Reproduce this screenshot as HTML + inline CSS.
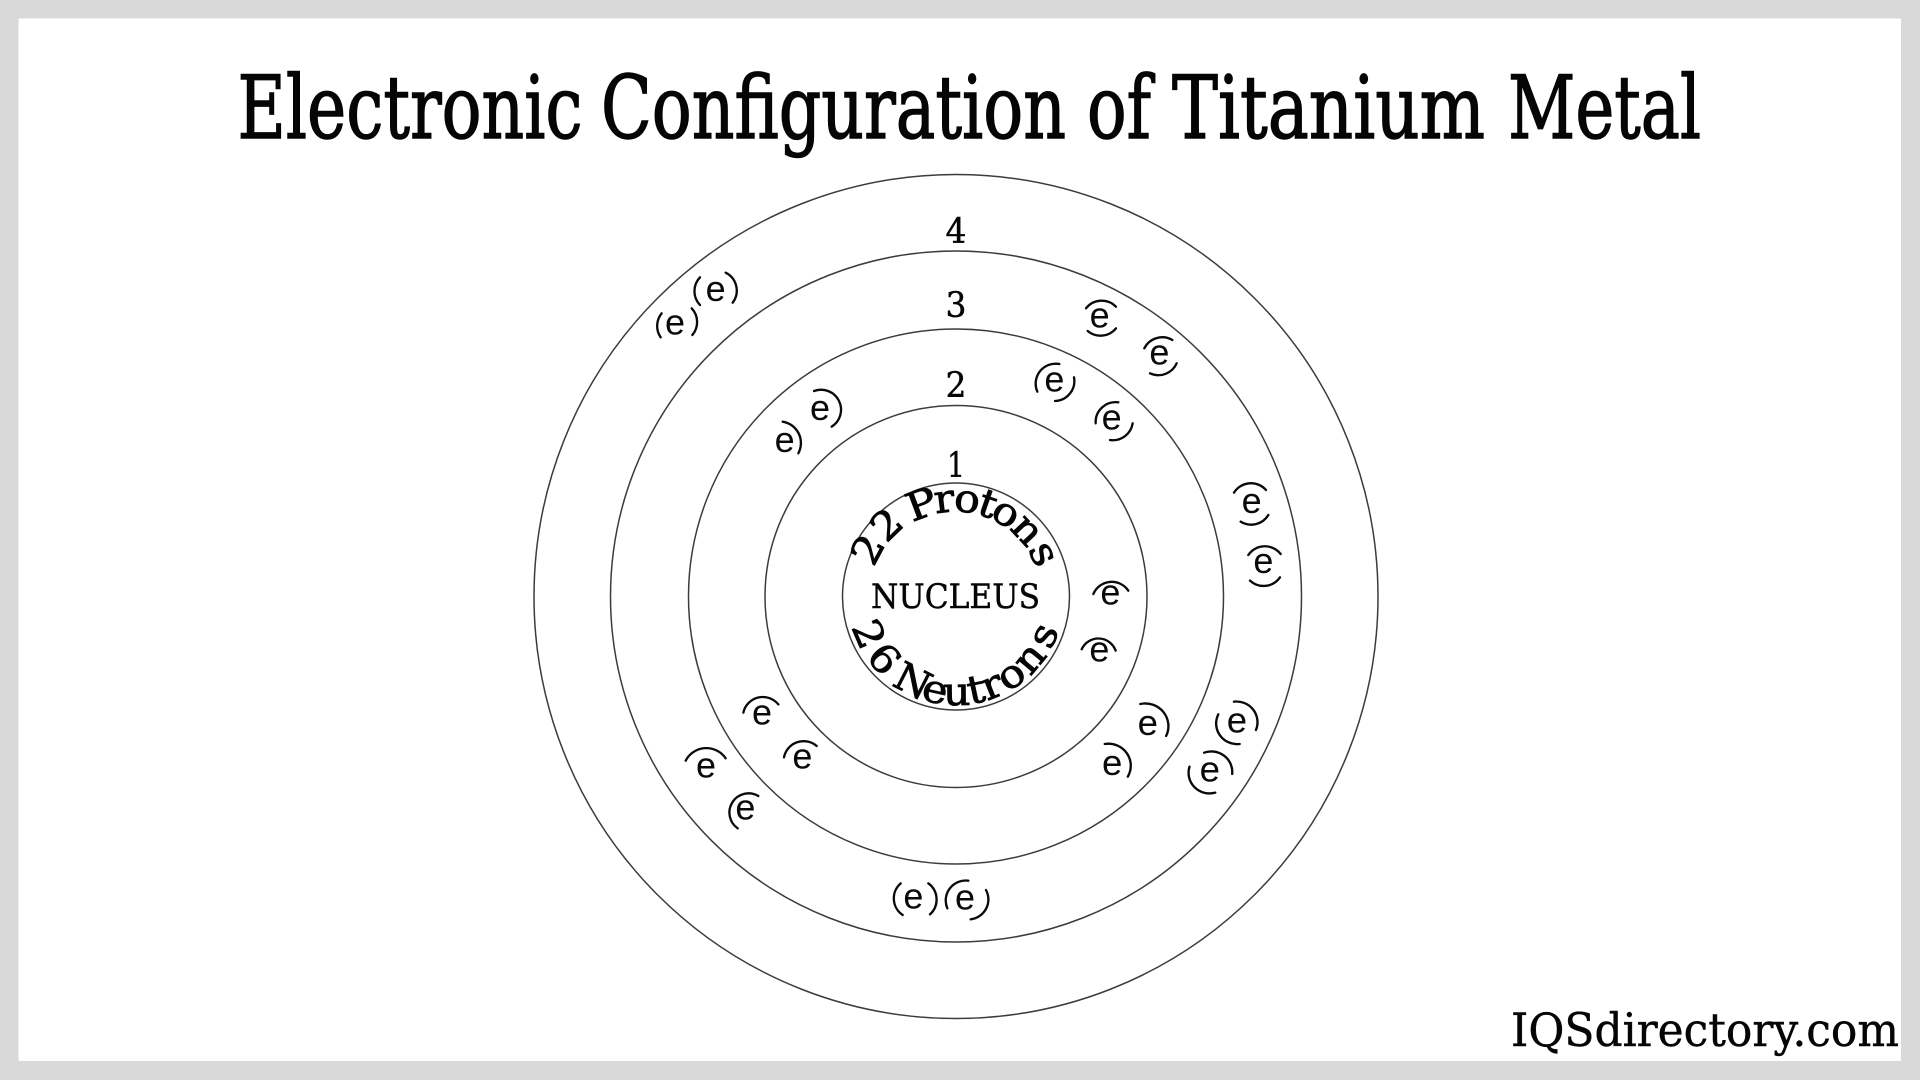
<!DOCTYPE html>
<html>
<head>
<meta charset="utf-8">
<style>
html,body{margin:0;padding:0;width:1920px;height:1080px;overflow:hidden;background:#d9d9d9}
svg{display:block}
.s{font-family:"DejaVu Serif","Liberation Serif",serif;fill:#050505;stroke:#050505;stroke-width:.45}
.t{font-size:87px;stroke-width:1.4}
.c{font-size:39px;text-anchor:middle;stroke-width:.8}
.e{font-family:"Liberation Sans",sans-serif;font-size:108px;text-anchor:middle;fill:#0a0a0a}
.r{fill:none;stroke:#3c3c3c;stroke-width:1.5}
.a{fill:none;stroke:#0a0a0a;stroke-width:7;stroke-linecap:round}
</style>
</head>
<body>
<svg width="1920" height="1080" viewBox="0 0 1920 1080" xmlns="http://www.w3.org/2000/svg">
<rect x="0" y="0" width="1920" height="1080" fill="#d9d9d9"/>
<rect x="18.5" y="18.5" width="1882.5" height="1042.5" fill="#fff"/>

<text class="s t" x="237.5" y="138" textLength="345" lengthAdjust="spacingAndGlyphs">Electronic</text>
<text class="s t" x="601" y="138" textLength="465" lengthAdjust="spacingAndGlyphs">Configuration</text>
<text class="s t" x="1087" y="138" textLength="64" lengthAdjust="spacingAndGlyphs">of</text>
<text class="s t" x="1172" y="138" textLength="313" lengthAdjust="spacingAndGlyphs">Titanium</text>
<text class="s t" x="1508" y="138" textLength="193" lengthAdjust="spacingAndGlyphs">Metal</text>
<text class="s" x="1511" y="1046" font-size="46" textLength="388" lengthAdjust="spacingAndGlyphs">IQSdirectory.com</text>

<circle class="r" cx="956" cy="596.5" r="113.5"/>
<circle class="r" cx="956" cy="596.5" r="191"/>
<circle class="r" cx="956" cy="596.5" r="267.5"/>
<circle class="r" cx="956" cy="596.5" r="345.5"/>
<circle class="r" cx="956" cy="596.5" r="422"/>

<text class="s" x="945.5" y="243" font-size="35" textLength="21" lengthAdjust="spacingAndGlyphs">4</text>
<text class="s" x="945.5" y="317" font-size="35" textLength="21" lengthAdjust="spacingAndGlyphs">3</text>
<text class="s" x="945.5" y="397" font-size="35" textLength="21" lengthAdjust="spacingAndGlyphs">2</text>
<text class="s" x="947" y="477" font-size="35" textLength="18" lengthAdjust="spacingAndGlyphs">1</text>

<text class="s" x="871" y="608" font-size="34" textLength="169" lengthAdjust="spacingAndGlyphs">NUCLEUS</text>

<!-- 22 Protons -->
<text class="s c" transform="rotate(-62 956 596.5) translate(956 510) scale(1.1 1)">2</text>
<text class="s c" transform="rotate(-44 956 596.5) translate(956 510) scale(1.1 1)">2</text>
<text class="s c" transform="rotate(-20.5 956 596.5) translate(956 511.5) scale(1.15 1)">P</text>
<text class="s c" transform="rotate(-7 956 596.5) translate(956 511.5) scale(1.1 1)">r</text>
<text class="s c" transform="rotate(6.6 956 596.5) translate(956 511.5) scale(1.1 1)">o</text>
<text class="s c" transform="rotate(19 956 596.5) translate(956 511.5) scale(1.1 1)">t</text>
<text class="s c" transform="rotate(31 956 596.5) translate(956 511.5) scale(1.1 1)">o</text>
<text class="s c" transform="rotate(47 956 596.5) translate(956 511.5) scale(1.1 1)">n</text>
<text class="s c" transform="rotate(64 956 596.5) translate(956 511.5) scale(1.1 1)">s</text>
<!-- 26 Neutrons -->
<text class="s c" transform="rotate(66.7 956 596.5) translate(956 705) scale(1.1 1)">2</text>
<text class="s c" transform="rotate(49 956 596.5) translate(956 705) scale(1.1 1)">6</text>
<text class="s c" transform="rotate(27 956 596.5) translate(956 705) scale(1.05 1)">N</text>
<text class="s c" transform="rotate(12.5 956 596.5) translate(956 705) scale(1.1 1)">e</text>
<text class="s c" transform="rotate(-0.5 956 596.5) translate(956 705) scale(1.1 1)">u</text>
<text class="s c" transform="rotate(-12 956 596.5) translate(956 705) scale(1.1 1)">t</text>
<text class="s c" transform="rotate(-22 956 596.5) translate(956 705) scale(1.1 1)">r</text>
<text class="s c" transform="rotate(-35 956 596.5) translate(956 705) scale(1.1 1)">o</text>
<text class="s c" transform="rotate(-50 956 596.5) translate(956 705) scale(1.1 1)">n</text>
<text class="s c" transform="rotate(-66 956 596.5) translate(956 705) scale(1.1 1)">s</text>

<!-- crop 2 -->
<g transform="translate(620 250) scale(.33333)">
<text class="e" x="165" y="253">e</text>
<path class="a" d="M125 190A60 60 0 0 0 122 262M215 175A60 60 0 0 1 217 255"/>
<text class="e" x="287" y="153">e</text>
<path class="a" d="M240 82A60 60 0 0 0 240 165M317 68A60 60 0 0 1 338 158"/>
<text class="e" x="600" y="510">e</text>
<path class="a" d="M582 423A60 60 0 0 1 635 530"/>
<text class="e" x="494" y="606">e</text>
<path class="a" d="M488 515A65 65 0 0 1 535 610"/>
</g>
<!-- crop 3 -->
<g transform="translate(1000 270) scale(.33333)">
<text class="e" x="299" y="173">e</text>
<path class="a" d="M258 115A60 60 0 0 1 348 110M348 175A60 60 0 0 1 263 183"/>
<text class="e" x="478" y="283">e</text>
<path class="a" d="M433 235A60 60 0 0 1 517 210M530 280A60 60 0 0 1 450 310"/>
<text class="e" x="163" y="364">e</text>
<path class="a" d="M178 282A60 60 0 0 0 112 365M222 322A60 60 0 0 1 165 393"/>
<text class="e" x="335" y="479">e</text>
<path class="a" d="M355 397A60 60 0 0 0 287 460M398 460A60 60 0 0 1 330 510"/>
<text class="e" x="755" y="729">e</text>
<path class="a" d="M702 668A60 60 0 0 1 798 660M805 735A60 60 0 0 1 722 755"/>
<text class="e" x="790" y="909">e</text>
<path class="a" d="M745 855A60 60 0 0 1 842 852M840 922A60 60 0 0 1 750 932"/>
<text class="e" x="331" y="1003">e</text>
<path class="a" d="M280 972A60 60 0 0 1 385 962"/>
</g>
<!-- crop 1 -->
<g transform="translate(820 460) scale(.33333)">
<text class="e" x="838" y="604">e</text>
<path class="a" d="M785 568A55 55 0 0 1 887 572"/>
</g>
<!-- crop 4 -->
<g transform="translate(660 670) scale(.33333)">
<text class="e" x="306" y="163">e</text>
<path class="a" d="M250 128A60 60 0 0 1 355 103"/>
<text class="e" x="427" y="295">e</text>
<path class="a" d="M372 262A60 60 0 0 1 470 228"/>
<text class="e" x="138" y="322">e</text>
<path class="a" d="M77 272A70 70 0 0 1 197 265"/>
<text class="e" x="256" y="449">e</text>
<path class="a" d="M295 378A57.6 57.6 0 0 0 233 475"/>
<text class="e" x="760" y="715">e</text>
<path class="a" d="M722 640A60 60 0 0 0 728 735M805 640A60 60 0 0 1 810 733"/>
<text class="e" x="915" y="719">e</text>
<path class="a" d="M925 632A60 60 0 0 0 862 715M978 660A60 60 0 0 1 932 748"/>
</g>
<!-- crop 5 -->
<g transform="translate(1060 680) scale(.339 .3333)">
<text class="e" x="259" y="165">e</text>
<path class="a" d="M237 72A68 68 0 0 1 313 168"/>
<text class="e" x="154" y="285">e</text>
<path class="a" d="M132 192A66 66 0 0 1 200 290"/>
<text class="e" x="522" y="157">e</text>
<path class="a" d="M513 65A62 62 0 0 1 578 150M467 103A62 62 0 0 0 530 192"/>
<text class="e" x="442" y="304">e</text>
<path class="a" d="M425 218A62 62 0 0 1 508 282M382 260A62 62 0 0 0 458 338"/>
</g>
</svg>
</body>
</html>
